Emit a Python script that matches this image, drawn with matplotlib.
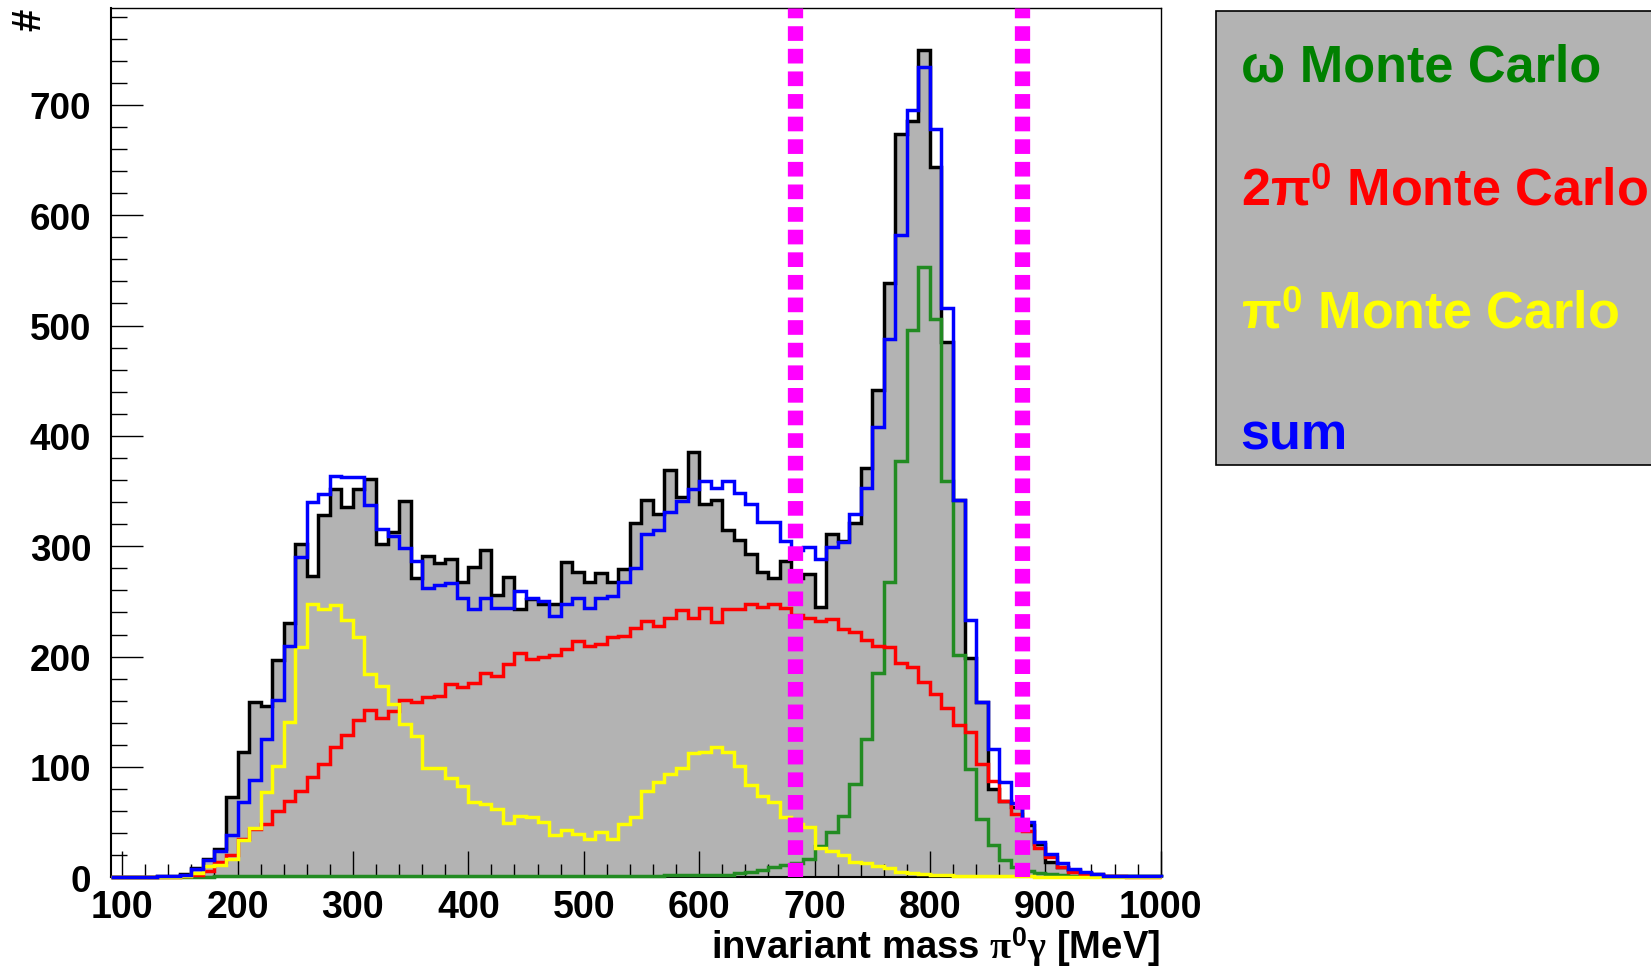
import numpy as np
import matplotlib
matplotlib.use("Agg")
import matplotlib.pyplot as plt
from matplotlib.patches import Rectangle

plt.rcParams["font.family"] = ["Liberation Sans", "DejaVu Sans"]
plt.rcParams["font.weight"] = "bold"
plt.rcParams["mathtext.fontset"] = "custom"
plt.rcParams["mathtext.it"] = "Liberation Serif"
plt.rcParams["mathtext.rm"] = "Liberation Sans:bold"
plt.rcParams["mathtext.bf"] = "Liberation Sans:bold"

# 10 MeV bins from 90 to 1000 MeV
bin_edges = np.arange(90, 1001, 10)

data_counts = [
    0, 0, 0, 0, 1, 1, 3, 8, 17, 26,
    73, 114, 159, 155, 197, 230, 302, 273, 328, 352,
    336, 352, 361, 302, 313, 341, 271, 291, 285, 288,
    268, 281, 297, 256, 272, 243, 252, 248, 248, 286,
    277, 268, 276, 268, 279, 321, 342, 329, 369, 345,
    385, 338, 342, 315, 306, 293, 277, 271, 287, 271,
    275, 245, 311, 305, 321, 371, 442, 539, 674, 685,
    750, 644, 485, 342, 199, 159, 80, 69, 64, 47,
    30, 14, 9, 7, 4, 3, 1, 1, 1, 1, 1,
]

omega_mc = [
    0, 0, 0, 0, 0, 0, 0, 0.3, 0.5, 1,
    1, 1, 1, 1, 1, 1, 1, 1, 1, 1,
    1, 1, 1, 1, 1, 1, 1, 1, 1, 1,
    1, 1, 1, 1, 1, 1, 1, 1, 1, 1,
    1, 1, 1, 1, 1, 1.5, 1.5, 1.5, 2, 2,
    2, 2, 2, 2.5, 4, 4.5, 7, 9, 11, 13,
    17, 28, 41, 56, 85, 125, 185, 268, 377, 496,
    553, 506, 359, 201, 98, 53, 29, 16, 9, 6,
    4, 3, 2, 1.5, 1, 1, 1, 1, 1, 1, 1,
]

two_pi0_mc = [
    0, 0, 0, 0, 0, 0.5, 1, 2, 6, 14,
    20, 35, 44, 48, 60, 69, 78, 91, 103, 118,
    129, 143, 152, 144, 151, 161, 159, 163, 164, 175,
    172, 176, 185, 182, 193, 203, 198, 200, 201, 207,
    214, 210, 211, 218, 219, 226, 232, 228, 235, 242,
    235, 244, 231, 243, 243, 248, 245, 248, 244, 238,
    235, 232, 234, 225, 222, 215, 210, 209, 194, 191,
    177, 166, 153, 138, 132, 103, 87, 69, 57, 42,
    27, 18, 9, 5, 3, 2, 1, 1, 0.5, 0.5, 0.5,
]

pi0_mc = [
    0, 0, 0, 0, 0, 0, 1, 4, 10, 11,
    17, 34, 45, 77, 101, 141, 209, 248, 243, 247,
    233, 218, 184, 173, 157, 139, 128, 99, 99, 90,
    83, 68, 66, 62, 49, 56, 55, 50, 38, 43,
    39, 35, 41, 35, 48, 55, 78, 86, 94, 99,
    113, 114, 118, 114, 101, 84, 74, 68, 55, 48,
    46, 27, 24, 20, 14, 13, 10, 8, 5, 4,
    3, 2, 2, 1.5, 1.5, 1.5, 1, 1, 1, 1,
    0.5, 0.5, 0.3, 0.2, 0, 0, 0, 0, 0, 0, 0,
]

sum_mc = [
    0, 0, 0, 0, 1, 1.5, 2.4, 7.5, 16, 24,
    38, 68, 88, 125, 161, 210, 290, 340, 347, 364,
    363, 363, 337, 316, 309, 298, 287, 262, 265, 267,
    253, 243, 253, 244, 244, 259, 253, 250, 237, 248,
    253, 244, 253, 255, 268, 280, 311, 315, 331, 341,
    352, 359, 353, 359, 348, 338, 322, 322, 305, 297,
    299, 288, 299, 304, 329, 353, 408, 488, 582, 695,
    734, 678, 516, 342, 233, 159, 116, 86, 67, 50,
    32, 21, 13, 7.5, 4.5, 2.7, 1.5, 1, 1, 1, 1.5,
]

# signal window around the omega mass
window_edges = [683, 880]

legend_labels = ["ω Monte Carlo", "2π$^{0}$ Monte Carlo", "π$^{0}$ Monte Carlo", "sum"]
legend_colors = ["#008000", "#ff0000", "#ffff00", "#0000ff"]

W, H = 1651, 970
fig = plt.figure(figsize=(W / 100, H / 100), dpi=100)
ax = fig.add_axes([110.6 / W, 1 - 878.3 / H, (1160.7 - 110.6) / W, (878.3 - 9.3) / H])

lw = 2.5
ax.stairs(data_counts, bin_edges, fill=True, color="#b3b3b3", zorder=1)
ax.stairs(data_counts, bin_edges, color="black", lw=lw, zorder=2, clip_on=False)
ax.stairs(omega_mc, bin_edges, color="#228b22", lw=lw, zorder=3, clip_on=False)
ax.stairs(two_pi0_mc, bin_edges, color="#ff0000", lw=lw, zorder=4, clip_on=False)
ax.stairs(pi0_mc, bin_edges, color="#ffff00", lw=lw, zorder=5, clip_on=False)
ax.stairs(sum_mc, bin_edges, color="#0000ff", lw=lw, zorder=6, clip_on=False)

ymax = 1.05 * max(data_counts)
for xv in window_edges:
    ax.plot([xv, xv], [0, ymax], color="#ff00ff", lw=11,
            linestyle=(0, (0.96, 0.52)), solid_capstyle="butt",
            dash_capstyle="butt", zorder=7)

ax.set_xlim(bin_edges[0], bin_edges[-1])
ax.set_ylim(0, ymax)

ax.set_xticks(np.arange(100, 1001, 100))
ax.set_xticks(np.arange(100, 1001, 20), minor=True)
ax.set_yticks(np.arange(0, 701, 100))
ax.set_yticks(np.arange(0, 781, 20), minor=True)

ax.tick_params(axis="both", which="both", direction="in", top=False, right=False, width=1)
ax.tick_params(axis="x", which="major", length=18.8, labelsize=27, pad=8.5)
ax.tick_params(axis="x", which="minor", length=9.4)
ax.tick_params(axis="y", which="major", length=22.7, labelsize=26.5, pad=14)
ax.tick_params(axis="y", which="minor", length=11.3)

for side in ["top", "right"]:
    ax.spines[side].set_linewidth(1.0)
for side in ["left", "bottom"]:
    ax.spines[side].set_linewidth(1.5)

fig.text(29.5 / W, 1 - 20 / H, "#", rotation=90, fontsize=29,
         ha="center", va="center", fontweight="bold")
fig.text(1160 / W, 1 - 959 / H, r"invariant mass $\pi^{\mathbf{0}}\gamma$ [MeV]",
         ha="right", va="baseline", fontsize=27.5, fontweight="bold")

# legend panel
fig.add_artist(Rectangle((1216 / W, 1 - 466 / H), (1700 - 1216) / W, (466 - 11.7) / H,
                         transform=fig.transFigure, facecolor="#b3b3b3",
                         edgecolor="black", lw=1.2, clip_on=False))
baselines = [81.7, 205, 328, 449]
for label, color, yb in zip(legend_labels, legend_colors, baselines):
    fig.text(1240.7 / W, 1 - yb / H, label, color=color, fontsize=37.6,
             ha="left", va="baseline", fontweight="bold")

fig.savefig("out.png", dpi=100)
